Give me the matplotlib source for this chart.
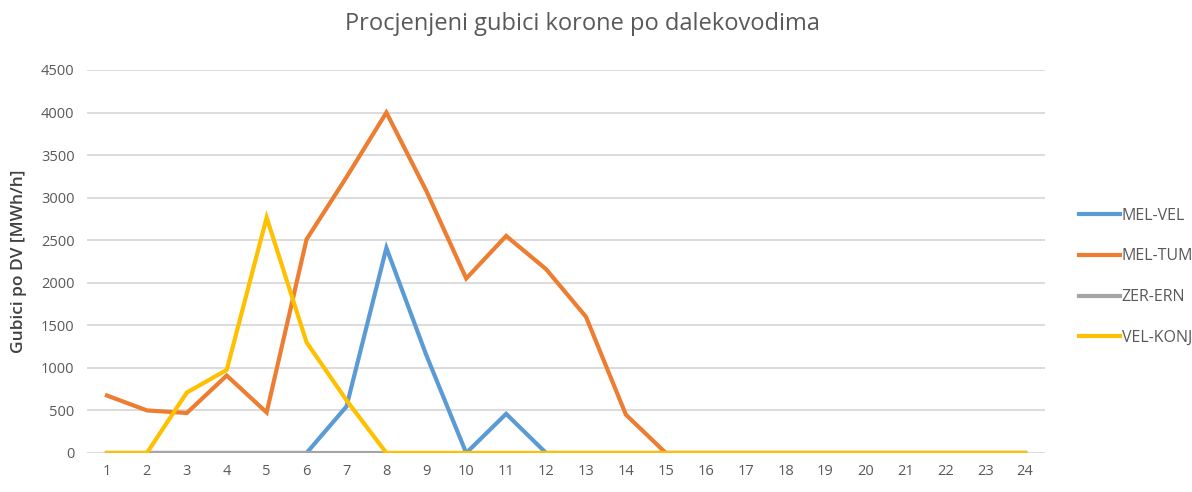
import numpy as np
import matplotlib.pyplot as plt

# sati 1..24
sati = np.arange(1, 25)

mel_vel = [0, 0, 0, 0, 0, 0, 546, 2410, 1150, 0, 460, 0,
           0, 0, 0, 0, 0, 0, 0, 0, 0, 0, 0, 0]
mel_tum = [675, 500, 470, 910, 476, 2510, 3240, 4000, 3080, 2050, 2550, 2160,
           1600, 450, 0, 0, 0, 0, 0, 0, 0, 0, 0, 0]
zer_ern = [0] * 24
vel_konj = [0, 0, 710, 976, 2766, 1300, 620, 0, 0, 0, 0, 0,
            0, 0, 0, 0, 0, 0, 0, 0, 0, 0, 0, 0]

nazivi = ['MEL-VEL', 'MEL-TUM', 'ZER-ERN', 'VEL-KONJ']
boje = ['#5B9BD5', '#ED7D31', '#A5A5A5', '#FFC000']

plt.rcParams['font.family'] = ['Open Sans', 'DejaVu Sans']

fig = plt.figure(figsize=(11.92, 4.92), dpi=100)
ax = fig.add_axes([0.073, 0.0793, 0.8037, 0.7785])

for serija, naziv, boja in zip([mel_vel, mel_tum, zer_ern, vel_konj], nazivi, boje):
    ax.plot(sati, serija, color=boja, lw=3, label=naziv, solid_joinstyle='miter')

ax.set_xlim(0.5, 24.5)
ax.set_ylim(0, 4500)
ax.set_xticks(sati)
ax.set_yticks(np.arange(0, 4501, 500))
ax.grid(axis='y', color='#D9D9D9', lw=1.3)
ax.set_axisbelow(True)
for s in ax.spines.values():
    s.set_visible(False)
ax.tick_params(length=0, labelsize=10.5, colors='#595959', pad=8)
ax.tick_params(axis='y', pad=9)

ax.set_ylabel('Gubici po DV [MWh/h]', fontsize=12.5, color='#404040',
              fontweight='semibold', labelpad=10)
fig.text(0.489, 0.952, 'Procjenjeni gubici korone po dalekovodima',
         ha='center', va='center', fontsize=17, color='#595959')

ax.legend(loc='center left', bbox_to_anchor=(1.02, 0.46), frameon=False,
          fontsize=11.5, labelcolor='#595959', handlelength=2.6,
          handletextpad=0.1, labelspacing=1.55)

fig.savefig('out.png', dpi=100)
